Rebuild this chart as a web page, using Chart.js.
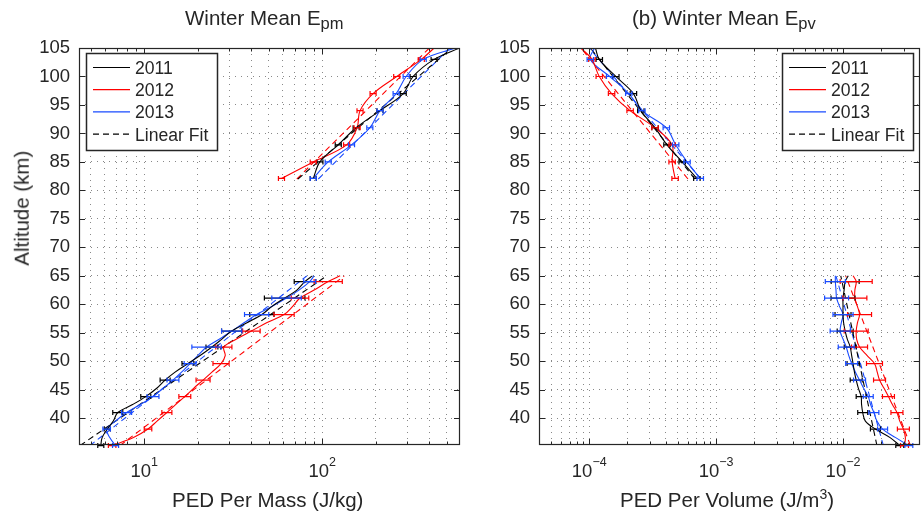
<!DOCTYPE html>
<html>
<head>
<meta charset="utf-8">
<script src="https://cdn.jsdelivr.net/npm/chart.js@4.4.1/dist/chart.umd.min.js"></script>
<style>
  html, body { margin: 0; padding: 0; background: #fff; }
  #wrap { position: relative; width: 922px; height: 516px; overflow: hidden;
          font-family: "Liberation Sans", Arial, sans-serif; color: #262626; }
  .panel { position: absolute; top: 0; width: 461px; height: 516px; }
  .txt { position: absolute; white-space: nowrap; font-size: 20.5px; line-height: 20.5px; }
  .sub { font-size: 16.5px; position: relative; top: 4.5px; }
  .sup { font-size: 14px; position: relative; top: -8px; }
</style>
</head>
<body>
<div id="wrap">
  <div class="panel" style="left:0"><canvas id="mass" width="461" height="516"></canvas></div>
  <div class="panel" style="left:461px"><canvas id="vol" width="461" height="516"></canvas></div>
  <div class="txt" style="left:185px; top:7.5px">Winter Mean E<span class="sub">pm</span></div>
  <div class="txt" style="left:632px; top:7.5px">(b) Winter Mean E<span class="sub">pv</span></div>
  <div class="txt" style="left:172px; top:490px">PED Per Mass (J/kg)</div>
  <div class="txt" style="left:620px; top:490px">PED Per Volume (J/m<span class="sup">3</span>)</div>
  <div class="txt" style="left:-43px; top:198px; width:130px; text-align:center; transform:rotate(-90deg)">Altitude (km)</div>
</div>
<script>
const FONT = '"Liberation Sans", Arial, sans-serif';
const INK = '#262626';
const GRID = 'rgba(40,40,40,0.55)';
const C11 = '#000000', C12 = '#ff0000', C13 = 'rgb(25,75,255)';

// altitude axis
const yTicks = [40, 45, 50, 55, 60, 65, 70, 75, 80, 85, 90, 95, 100, 105];

// profile altitudes (km)
const altHigh = [82.1, 85, 88, 91, 94, 97, 100, 103, 105];
const altLow = [35.2, 36.6, 38.1, 39.5, 41, 42.4, 43.8, 45.3, 46.7, 48.1, 49.6, 51,
                52.5, 53.9, 55.3, 56.8, 58.2, 59.6, 61.1, 62.5, 64, 65];
const fitAltHigh = [82, 105];
const fitAltLow = [35.2, 65];
// which profile points carry error bars
const markHigh = [0, 1, 2, 3, 4, 5, 6, 7];
const markLow = [0, 2, 4, 6, 8, 10, 12, 14, 16, 18, 20];

// ---- PED per mass (J/kg) ----
const massTicksMajor = [10, 100];
const massExp = ['1', '2'];
const massHigh2011 = [89, 97, 123, 155, 211, 285, 324, 425, 590];
const massHigh2012 = [59, 89, 137, 157, 163, 193, 262, 360, 425];
const massHigh2013 = [89, 108, 146, 185, 211, 260, 296, 369, 560];
const massLow2011 = [5.7, 5.8, 6.2, 6.7, 7.1, 8.6, 10.2, 11.8, 13.1, 14.9, 17.6, 20.6,
                     24.0, 27.3, 31, 38, 45.8, 52, 61.5, 72, 80, 88];
const massLow2012 = [6.6, 8.7, 10.5, 11.8, 13.4, 15, 16.9, 19, 21.4, 24, 27, 28.5,
                     28, 33, 40, 49, 61, 68, 75, 90, 108, 126];
const massLow2013 = [6.9, 6.4, 6.15, 6.9, 7.96, 9.5, 11.2, 12.8, 14.5, 16.2, 18.1, 20,
                     22.4, 26.5, 31, 36.5, 42.8, 52, 63, 74, 85, 90];
const massFitHigh2011 = [73, 535], massFitHigh2012 = [72, 400], massFitHigh2013 = [95, 520];
const massFitLow2011 = [4.36, 106], massFitLow2012 = [7.3, 133], massFitLow2013 = [4.95, 82];
const massErrHigh = [1.04, 1.04, 1.04, 1.04, 1.04, 1.04, 1.04, 1.04];
const massErrLow2011 = [1.04, 1.04, 1.067, 1.067, 1.067, 1.08, 1.08, 1.14, 1.17, 1.30, 1.15];
const massErrLow2012 = [1.05, 1.05, 1.067, 1.08, 1.095, 1.11, 1.11, 1.12, 1.14, 1.12, 1.2];
const massErrLow2013 = [1.04, 1.05, 1.067, 1.08, 1.08, 1.08, 1.21, 1.14, 1.17, 1.21, 1.08];

// ---- PED per volume (J/m^3) ----
const volTicksMajor = [1e-4, 1e-3, 1e-2];
const volExp = ['\u22124', '\u22123', '\u22122'];
const volHigh2011 = [7.05e-4, 5.4e-4, 4.1e-4, 3.3e-4, 2.55e-4, 2.23e-4, 1.62e-4, 1.2e-4, 1.12e-4];
const volHigh2012 = [4.75e-4, 4.5e-4, 4.5e-4, 3.3e-4, 2.1e-4, 1.5e-4, 1.2e-4, 1.05e-4, 8.6e-5];
const volHigh2013 = [7.5e-4, 5.9e-4, 4.8e-4, 4.05e-4, 2.6e-4, 2.05e-4, 1.45e-4, 1.02e-4, 1.1e-4];
const volLow2011 = [0.028, 0.0235, 0.018, 0.015, 0.0143, 0.014, 0.0139, 0.0132, 0.0127, 0.0123, 0.012,
                    0.0117, 0.0114, 0.0108, 0.0104, 0.0101, 0.01, 0.01, 0.01, 0.0102, 0.0104, 0.011];
const volLow2012 = [0.0305, 0.031, 0.0299, 0.028, 0.0266, 0.0245, 0.0228, 0.021, 0.0194, 0.0186, 0.0177,
                    0.0155, 0.0135, 0.0128, 0.0127, 0.013, 0.0135, 0.013, 0.0124, 0.0124, 0.0127, 0.012];
const volLow2013 = [0.033, 0.026, 0.0205, 0.0185, 0.0175, 0.0165, 0.0158, 0.0145, 0.0135, 0.0125, 0.0117,
                    0.0111, 0.0106, 0.01, 0.0095, 0.0097, 0.01, 0.0094, 0.0089, 0.0088, 0.0087, 0.0087];
const volFitHigh2011 = [6.8e-4, 1.02e-4], volFitHigh2012 = [6.0e-4, 8.6e-5], volFitHigh2013 = [7.6e-4, 1.0e-4];
const volFitLow2011 = [0.0185, 0.0096], volFitLow2012 = [0.034, 0.0105], volFitLow2013 = [0.0208, 0.0088];
const volErrHigh = [1.06, 1.06, 1.06, 1.06, 1.06, 1.06, 1.06, 1.06];
const volErrLow2011 = [1.075, 1.095, 1.095, 1.095, 1.115, 1.115, 1.115, 1.156, 1.156, 1.243, 1.289];
const volErrLow2012 = [1.075, 1.115, 1.115, 1.115, 1.115, 1.156, 1.156, 1.243, 1.243, 1.243, 1.337];
const volErrLow2013 = [1.075, 1.095, 1.095, 1.095, 1.115, 1.115, 1.156, 1.2, 1.2, 1.243, 1.2];

const legendLabels = ['2011', '2012', '2013', 'Linear Fit'];
const legendColors = [C11, C12, C13, '#000'];

function profile(alts, vals, color, err, marks) {
  return { data: alts.map((a, i) => ({ x: vals[i], y: a })), showLine: true,
           borderColor: color, borderWidth: 1.1, tension: 0.35, pointRadius: 0,
           err: err, marks: marks };
}
function fit(alts, vals, color) {
  return { data: alts.map((a, i) => ({ x: vals[i], y: a })), showLine: true,
           borderColor: color, borderWidth: 1.1, borderDash: [6, 4], pointRadius: 0 };
}

// minor + major log ticks between the axis limits
function logTicks(min, max) {
  const out = [];
  for (let e = Math.floor(Math.log10(min)); e <= Math.ceil(Math.log10(max)); e++) {
    for (let m = 1; m <= 9; m++) {
      const v = m * Math.pow(10, e);
      if (v > min * 1.001 && v < max * 0.999) out.push(v);
    }
  }
  return out;
}

const framePlugin = {
  id: 'frame',
  afterDatasetsDraw(chart, args, opts) {
    const ctx = chart.ctx, xs = chart.scales.x, ys = chart.scales.y;
    const a = chart.chartArea;
    ctx.save();
    // error bars
    chart.data.datasets.forEach(ds => {
      if (!ds.err) return;
      ctx.strokeStyle = ds.borderColor;
      ctx.lineWidth = 1.2;
      ctx.setLineDash([]);
      ds.marks.forEach((k, j) => {
        const p = ds.data[k], f = ds.err[j];
        const y = ys.getPixelForValue(p.y);
        const x0 = xs.getPixelForValue(p.x / f), x1 = xs.getPixelForValue(p.x * f);
        ctx.beginPath();
        ctx.moveTo(x0, y); ctx.lineTo(x1, y);
        ctx.moveTo(x0, y - 2.5); ctx.lineTo(x0, y + 2.5);
        ctx.moveTo(x1, y - 2.5); ctx.lineTo(x1, y + 2.5);
        ctx.stroke();
      });
    });
    // box and inward ticks
    ctx.strokeStyle = INK;
    ctx.lineWidth = 1.2;
    ctx.strokeRect(Math.round(a.left) + 0.5, Math.round(a.top) + 0.5,
                   Math.round(a.right - a.left) - 1, Math.round(a.bottom - a.top) - 1);
    ctx.lineWidth = 1;
    ctx.beginPath();
    xs.ticks.forEach(t => {
      const x = Math.round(xs.getPixelForValue(t.value)) + 0.5;
      const len = opts.majors.includes(t.value) ? 6 : 3.5;
      ctx.moveTo(x, a.bottom); ctx.lineTo(x, a.bottom - len);
      ctx.moveTo(x, a.top); ctx.lineTo(x, a.top + len);
    });
    ys.ticks.forEach(t => {
      const y = Math.round(ys.getPixelForValue(t.value)) + 0.5;
      ctx.moveTo(a.left, y); ctx.lineTo(a.left + 6, y);
      ctx.moveTo(a.right, y); ctx.lineTo(a.right - 6, y);
    });
    ctx.stroke();
    // x tick labels 10^n
    ctx.fillStyle = INK;
    ctx.textBaseline = 'alphabetic';
    ctx.textAlign = 'left';
    opts.majors.forEach((v, i) => {
      const x = xs.getPixelForValue(v);
      ctx.font = '18.5px ' + FONT;
      const w10 = ctx.measureText('10').width;
      ctx.font = '12.5px ' + FONT;
      const we = ctx.measureText(opts.exps[i]).width;
      const x0 = x - (w10 + we) / 2;
      ctx.font = '18.5px ' + FONT;
      ctx.fillText('10', x0, 477);
      ctx.font = '12.5px ' + FONT;
      ctx.fillText(opts.exps[i], x0 + w10, 465.5);
    });
    // legend
    const L = opts.legend;
    ctx.fillStyle = '#fff';
    ctx.fillRect(L.x, L.y, L.w, L.h);
    ctx.strokeStyle = INK;
    ctx.lineWidth = 1.5;
    ctx.strokeRect(L.x + 0.5, L.y + 0.5, L.w, L.h);
    ctx.font = '17.6px ' + FONT;
    legendLabels.forEach((lab, i) => {
      const base = L.y + 21 + i * 22.2;
      ctx.strokeStyle = legendColors[i];
      ctx.lineWidth = 1.2;
      ctx.setLineDash(i === 3 ? [6, 4] : []);
      ctx.beginPath();
      ctx.moveTo(L.x + 7, base - 6.5); ctx.lineTo(L.x + 44, base - 6.5);
      ctx.stroke();
      ctx.fillStyle = INK;
      ctx.fillText(lab, L.x + 49, base);
    });
    ctx.restore();
  }
};

function panel(id, cfg) {
  return new Chart(document.getElementById(id), {
    type: 'scatter',
    data: { datasets: cfg.datasets },
    options: {
      responsive: false,
      animation: false,
      layout: { padding: { top: 48, right: cfg.padRight, left: 0, bottom: 0 } },
      plugins: { legend: { display: false }, tooltip: { enabled: false }, frame: cfg.frame },
      scales: {
        x: {
          type: 'logarithmic', min: cfg.xMin, max: cfg.xMax,
          afterBuildTicks: s => { s.ticks = logTicks(cfg.xMin, cfg.xMax).map(v => ({ value: v })); },
          afterFit: s => { s.height = 71; },
          ticks: { display: false },
          grid: { color: GRID, lineWidth: 1, drawTicks: false },
          border: { display: false, dash: [1, 5] }
        },
        y: {
          type: 'linear', min: 35.3, max: 105,
          afterBuildTicks: s => { s.ticks = yTicks.map(v => ({ value: v })); },
          afterFit: s => { s.width = cfg.yWidth; },
          ticks: { color: INK, font: { size: 18.5, family: FONT }, padding: 9 },
          grid: { color: GRID, lineWidth: 1, drawTicks: false },
          border: { display: false, dash: [1, 5] }
        }
      }
    },
    plugins: [framePlugin]
  });
}

panel('mass', {
  xMin: 4.3, xMax: 594, yWidth: 79, padRight: 1,
  frame: { majors: massTicksMajor, exps: massExp, legend: { x: 86, y: 53, w: 131, h: 97 } },
  datasets: [
    profile(altHigh, massHigh2011, C11, massErrHigh, markHigh),
    profile(altHigh, massHigh2012, C12, massErrHigh, markHigh),
    profile(altHigh, massHigh2013, C13, massErrHigh, markHigh),
    profile(altLow, massLow2011, C11, massErrLow2011, markLow),
    profile(altLow, massLow2012, C12, massErrLow2012, markLow),
    profile(altLow, massLow2013, C13, massErrLow2013, markLow),
    fit(fitAltHigh, massFitHigh2011, C11), fit(fitAltHigh, massFitHigh2012, C12), fit(fitAltHigh, massFitHigh2013, C13),
    fit(fitAltLow, massFitLow2011, C11), fit(fitAltLow, massFitLow2012, C12), fit(fitAltLow, massFitLow2013, C13)
  ]
});

panel('vol', {
  xMin: 4.02e-5, xMax: 4.02e-2, yWidth: 78, padRight: 2.3,
  frame: { majors: volTicksMajor, exps: volExp, legend: { x: 321, y: 53, w: 131, h: 97 } },
  datasets: [
    profile(altHigh, volHigh2011, C11, volErrHigh, markHigh),
    profile(altHigh, volHigh2012, C12, volErrHigh, markHigh),
    profile(altHigh, volHigh2013, C13, volErrHigh, markHigh),
    profile(altLow, volLow2011, C11, volErrLow2011, markLow),
    profile(altLow, volLow2012, C12, volErrLow2012, markLow),
    profile(altLow, volLow2013, C13, volErrLow2013, markLow),
    fit(fitAltHigh, volFitHigh2011, C11), fit(fitAltHigh, volFitHigh2012, C12), fit(fitAltHigh, volFitHigh2013, C13),
    fit(fitAltLow, volFitLow2011, C11), fit(fitAltLow, volFitLow2012, C12), fit(fitAltLow, volFitLow2013, C13)
  ]
});
</script>
</body>
</html>
